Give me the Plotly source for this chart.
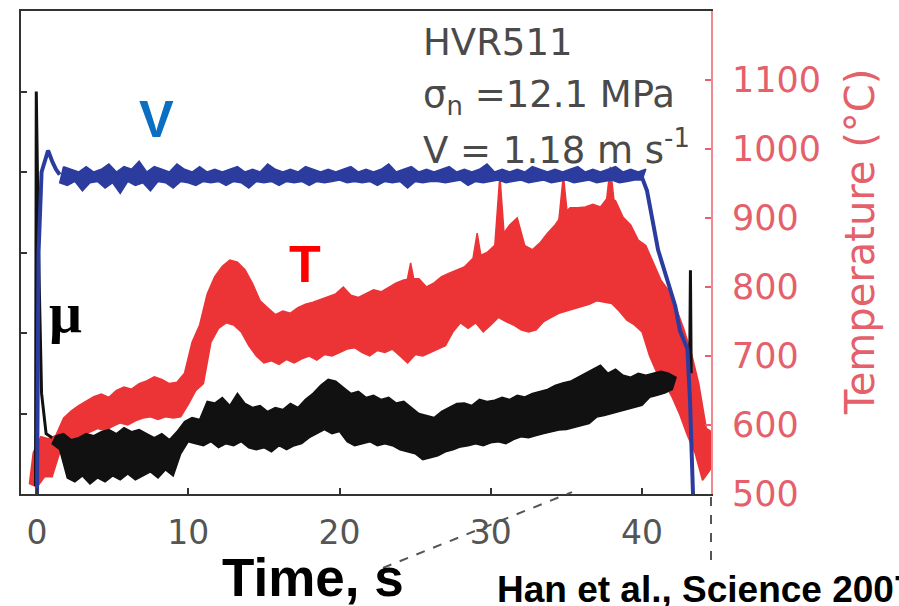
import numpy as np
import plotly.graph_objects as go

# ---- Temperature (deg C): lower / upper envelope of the noisy record, every 0.5 s from -0.5 s
t_T = np.round(np.arange(-0.5, 44.51, 0.5), 2)
T_hi = [560, 583, 580, 585, 610, 620, 628, 635, 641, 645, 640, 650, 655, 652, 660, 664, 670, 666, 660, 662,
        675, 720, 745, 790, 815, 830, 839, 836, 825, 805, 780, 770, 760, 765, 762, 770, 775, 778, 782, 785,
        790, 800, 788, 785, 790, 796, 793, 800, 806, 810, 812, 812, 800, 806, 815, 820, 825, 829, 840, 845,
        850, 860, 875, 890, 900, 860, 854, 864, 878, 890, 905, 915, 915, 916, 920, 916, 930, 925, 901, 890,
        868, 860, 835, 810, 795, 770, 740, 705, 660, 595, 588]
T_lo = [515, 510, 525, 525, 560, 575, 580, 585, 590, 595, 592, 598, 603, 600, 606, 610, 612, 608, 612, 610,
        612, 630, 650, 660, 720, 740, 748, 745, 735, 715, 700, 690, 693, 688, 695, 690, 696, 700, 694, 702,
        700, 705, 710, 712, 705, 700, 708, 705, 710, 700, 690, 702, 700, 704, 710, 715, 735, 748, 740, 748,
        735, 745, 756, 750, 745, 738, 735, 738, 750, 756, 762, 765, 768, 772, 775, 780, 778, 776, 765, 752,
        745, 735, 700, 675, 660, 640, 615, 585, 560, 520, 535]
# short temperature bursts rising above the band: time, peak, level at their foot
spike_t = [24.7, 29.1, 30.6, 34.8, 37.9]
spike_peak = [835, 878, 962, 962, 974]
spike_foot = [790, 825, 840, 875, 895]

# ---- Friction coefficient: start-up peak, then noisy envelope every 0.5 s from 1 s, then final peak
t_mu_start = [-0.1, -0.05, 0.1, 0.3, 0.6, 1.0]
mu_start = [0.02, 1.0, 0.6, 0.25, 0.15, 0.14]
t_mu = np.round(np.arange(1.0, 42.01, 0.5), 2)
mu_hi = [0.145, 0.150, 0.135, 0.140, 0.150, 0.145, 0.155, 0.160, 0.150, 0.165, 0.155, 0.160, 0.150, 0.140,
         0.150, 0.135, 0.155, 0.180, 0.190, 0.185, 0.230, 0.226, 0.240, 0.220, 0.250, 0.225, 0.215, 0.220,
         0.205, 0.215, 0.210, 0.225, 0.215, 0.235, 0.250, 0.270, 0.285, 0.280, 0.265, 0.250, 0.255, 0.240,
         0.245, 0.235, 0.240, 0.226, 0.230, 0.215, 0.200, 0.195, 0.190, 0.205, 0.215, 0.225, 0.226, 0.220,
         0.235, 0.230, 0.233, 0.240, 0.235, 0.245, 0.241, 0.250, 0.255, 0.260, 0.270, 0.276, 0.280, 0.290,
         0.300, 0.310, 0.320, 0.300, 0.310, 0.295, 0.290, 0.300, 0.295, 0.300, 0.305, 0.300, 0.290]
mu_lo = [0.125, 0.110, 0.040, 0.030, 0.045, 0.025, 0.040, 0.030, 0.045, 0.035, 0.050, 0.035, 0.045, 0.055,
         0.040, 0.060, 0.045, 0.100, 0.130, 0.125, 0.120, 0.130, 0.115, 0.125, 0.120, 0.130, 0.115, 0.110,
         0.115, 0.105, 0.120, 0.110, 0.120, 0.125, 0.140, 0.150, 0.160, 0.150, 0.155, 0.130, 0.120, 0.125,
         0.130, 0.120, 0.125, 0.120, 0.110, 0.105, 0.100, 0.085, 0.090, 0.095, 0.105, 0.110, 0.117, 0.120,
         0.125, 0.120, 0.127, 0.130, 0.125, 0.135, 0.142, 0.140, 0.145, 0.150, 0.155, 0.159, 0.160, 0.165,
         0.170, 0.175, 0.191, 0.195, 0.200, 0.205, 0.209, 0.215, 0.220, 0.240, 0.245, 0.251, 0.260]
t_mu_end = [43.15, 43.2, 43.25]
mu_end = [0.315, 0.556, 0.30]

# ---- Slip velocity (m/s): acceleration, noisy plateau every 0.5 s from 1.5 s, deceleration
t_V_start = [0.0, 0.1, 0.3, 0.73, 1.0, 1.25, 1.5]
V_start = [0.0, 0.9, 1.2, 1.28, 1.24, 1.21, 1.19]
t_V = np.round(np.arange(1.5, 40.01, 0.5), 2)
V_hi = [1.22, 1.21, 1.20, 1.22, 1.20, 1.21, 1.23, 1.20, 1.22, 1.21, 1.24, 1.20, 1.22, 1.21, 1.20, 1.23, 1.21, 1.20, 1.22, 1.20,
        1.21, 1.20, 1.21, 1.22, 1.20, 1.21, 1.20, 1.23, 1.21, 1.20,
        1.21, 1.20, 1.22, 1.21, 1.20, 1.21, 1.20, 1.21, 1.22, 1.20,
        1.21, 1.20, 1.21, 1.23, 1.20, 1.21, 1.22, 1.20, 1.21, 1.20,
        1.21, 1.22, 1.20, 1.21, 1.20, 1.21, 1.23, 1.20, 1.21, 1.20,
        1.21, 1.20, 1.22, 1.21, 1.20, 1.21, 1.20, 1.21, 1.22, 1.20,
        1.21, 1.20, 1.21, 1.22, 1.20, 1.21, 1.20, 1.21]
V_lo = [1.16, 1.15, 1.165, 1.13, 1.16, 1.165, 1.14, 1.16, 1.12, 1.165, 1.15, 1.16, 1.13, 1.165, 1.16, 1.14, 1.165, 1.16, 1.15, 1.165,
        1.16, 1.165, 1.15, 1.165, 1.16, 1.14, 1.165, 1.16, 1.165, 1.15,
        1.165, 1.16, 1.165, 1.15, 1.165, 1.16, 1.165, 1.17, 1.16, 1.165,
        1.16, 1.165, 1.15, 1.165, 1.16, 1.165, 1.14, 1.165, 1.16, 1.165,
        1.165, 1.16, 1.165, 1.17, 1.15, 1.165, 1.16, 1.165, 1.17, 1.16,
        1.165, 1.17, 1.16, 1.165, 1.17, 1.16, 1.165, 1.17, 1.16, 1.165,
        1.17, 1.16, 1.165, 1.17, 1.16, 1.165, 1.17, 1.17]
t_V_end = [40.0, 40.33, 41.06, 42.2, 42.5, 43.0, 43.17, 43.3, 43.37, 43.5]
V_end = [1.18, 1.13, 0.91, 0.70, 0.61, 0.54, 0.35, 0.12, 0.0, 0.0]

x_ticks = [0, 10, 20, 30, 40]
T_ticks = [500, 600, 700, 800, 900, 1000, 1100]
mu_ticks = [0.2, 0.4, 0.6, 0.8, 1.0]


def band(t, lo, hi, step=0.5):
    """Closed outline of a noisy record: upper envelope forward, lower envelope back."""
    up_x = [ti + step / 2 for ti in t]
    xs = up_x + list(t)[::-1]
    ys = list(hi) + list(lo)[::-1]
    return xs + [xs[0]], ys + [ys[0]]


def bursts(ts, peaks, feet, half=0.4):
    """Narrow closed triangles for short bursts, separated by gaps."""
    xs, ys = [], []
    for ti, p, f in zip(ts, peaks, feet):
        xs += [ti - half, ti, ti + half, ti - half, None]
        ys += [f, p, f, f, None]
    return xs, ys


RED = "#EC3437"
AXRED = "#E4606A"
BLUE = "#2C3C9E"
BLACK = "#111111"
FONT = "Liberation Sans, Arial, sans-serif"
TICKFONT = "DejaVu Sans, sans-serif"

fig = go.Figure()

# temperature on the primary (right-hand) axis, drawn first
tx, ty = band(t_T, T_lo, T_hi)
fig.add_trace(go.Scatter(x=tx, y=ty, mode="lines", fill="toself", fillcolor=RED,
                         line=dict(color=RED, width=1.5), yaxis="y", showlegend=False, hoverinfo="skip"))
sx, sy = bursts(spike_t, spike_peak, spike_foot)
fig.add_trace(go.Scatter(x=sx, y=sy, mode="lines", fill="toself", fillcolor=RED,
                         line=dict(color=RED, width=1.5), yaxis="y", showlegend=False, hoverinfo="skip"))

# friction coefficient on the left axis
mx, my = band(t_mu, mu_lo, mu_hi)
fig.add_trace(go.Scatter(x=mx, y=my, mode="lines", fill="toself", fillcolor=BLACK,
                         line=dict(color=BLACK, width=1.5), yaxis="y2", showlegend=False, hoverinfo="skip"))
fig.add_trace(go.Scatter(x=t_mu_start, y=mu_start, mode="lines", line=dict(color=BLACK, width=3),
                         yaxis="y2", showlegend=False, hoverinfo="skip"))
fig.add_trace(go.Scatter(x=t_mu_end, y=mu_end, mode="lines", line=dict(color=BLACK, width=3),
                         yaxis="y2", showlegend=False, hoverinfo="skip"))

# slip velocity on a hidden axis
vx, vy = band(t_V, V_lo, V_hi)
fig.add_trace(go.Scatter(x=vx, y=vy, mode="lines", fill="toself", fillcolor=BLUE,
                         line=dict(color=BLUE, width=1.5), yaxis="y3", showlegend=False, hoverinfo="skip"))
fig.add_trace(go.Scatter(x=t_V_start, y=V_start, mode="lines", line=dict(color=BLUE, width=4),
                         yaxis="y3", showlegend=False, hoverinfo="skip"))
fig.add_trace(go.Scatter(x=t_V_end, y=V_end, mode="lines", line=dict(color=BLUE, width=4),
                         yaxis="y3", showlegend=False, hoverinfo="skip"))

fig.update_layout(
    width=899, height=606,
    margin=dict(l=21, r=188, t=11, b=112, autoexpand=False),
    paper_bgcolor="white", plot_bgcolor="white",
    font=dict(family=FONT),
    xaxis=dict(range=[-1.06, 44.56], tickvals=x_ticks, ticks="inside", ticklen=6, tickwidth=2,
               tickcolor="#333333", showline=True, linecolor="#333333", linewidth=2, mirror=True,
               showgrid=False, zeroline=False, tickfont=dict(size=33, color="#555555", family=TICKFONT),
               ticklabelstandoff=8),
    yaxis=dict(range=[500, 1200], side="right", tickvals=T_ticks, ticks="inside", ticklen=6,
               tickwidth=2, tickcolor=AXRED, showline=True, linecolor="#F08A8E", linewidth=2,
               showgrid=False, zeroline=False, tickfont=dict(size=35, color=AXRED, family=TICKFONT),
               ticklabelstandoff=12),
    yaxis2=dict(range=[0, 1.2], overlaying="y", side="left", tickvals=mu_ticks, ticks="inside",
                ticklen=6, tickwidth=2, tickcolor="#333333", showline=True, linecolor="#333333",
                linewidth=2, showticklabels=False, showgrid=False, zeroline=False),
    yaxis3=dict(range=[0, 1.8], overlaying="y", visible=False),
)

# right-hand axis title
fig.add_annotation(x=1.216, y=0.522, xref="paper", yref="paper", text="Temperature (°C)", textangle=-90,
                   showarrow=False, font=dict(size=40, color=AXRED, family=TICKFONT),
                   xanchor="center", yanchor="middle")

# curve labels
fig.add_annotation(x=0.197, y=0.776, xref="paper", yref="paper", text="<b>V</b>", showarrow=False,
                   font=dict(size=52, color="#0A6FC2", family=FONT), xanchor="center", yanchor="middle")
fig.add_annotation(x=0.412, y=0.476, xref="paper", yref="paper", text="<b>T</b>", showarrow=False,
                   font=dict(size=52, color="#FF0000", family=FONT), xanchor="center", yanchor="middle")
fig.add_annotation(x=0.065, y=0.375, xref="paper", yref="paper", text="<b>μ</b>", showarrow=False,
                   font=dict(size=58, color="#000000", family="Liberation Serif, serif"),
                   xanchor="center", yanchor="middle")

# experiment conditions
for txt, yy in [("HVR511", 0.935), ("σ<sub>n</sub> =12.1 MPa", 0.822), ("V = 1.18 m s<sup>-1</sup>", 0.717)]:
    fig.add_annotation(x=0.580, y=yy, xref="paper", yref="paper", text=txt, showarrow=False,
                       font=dict(size=37, color="#4A4A4A", family=TICKFONT), xanchor="left", yanchor="middle")

# axis caption and source
fig.add_annotation(x=0.423, y=-0.172, xref="paper", yref="paper", text="<b>Time, s</b>", showarrow=False,
                   font=dict(size=53, color="#000000", family=FONT), xanchor="center", yanchor="middle")
fig.add_annotation(x=0.687, y=-0.197, xref="paper", yref="paper", text="<b>Han et al., Science 2007</b>",
                   showarrow=False, font=dict(size=37, color="#000000", family=FONT),
                   xanchor="left", yanchor="middle")

# dashed guide lines running off below the frame
fig.add_shape(type="line", xref="paper", yref="paper", x0=0.5246, y0=-0.153, x1=0.7986, y1=0.004,
              line=dict(color="#555555", width=2, dash="dash"))
fig.add_shape(type="line", xref="paper", yref="paper", x0=1.0, y0=-0.006, x1=1.0, y1=-0.147,
              line=dict(color="#555555", width=2, dash="dash"))

fig.write_html("out.html")
